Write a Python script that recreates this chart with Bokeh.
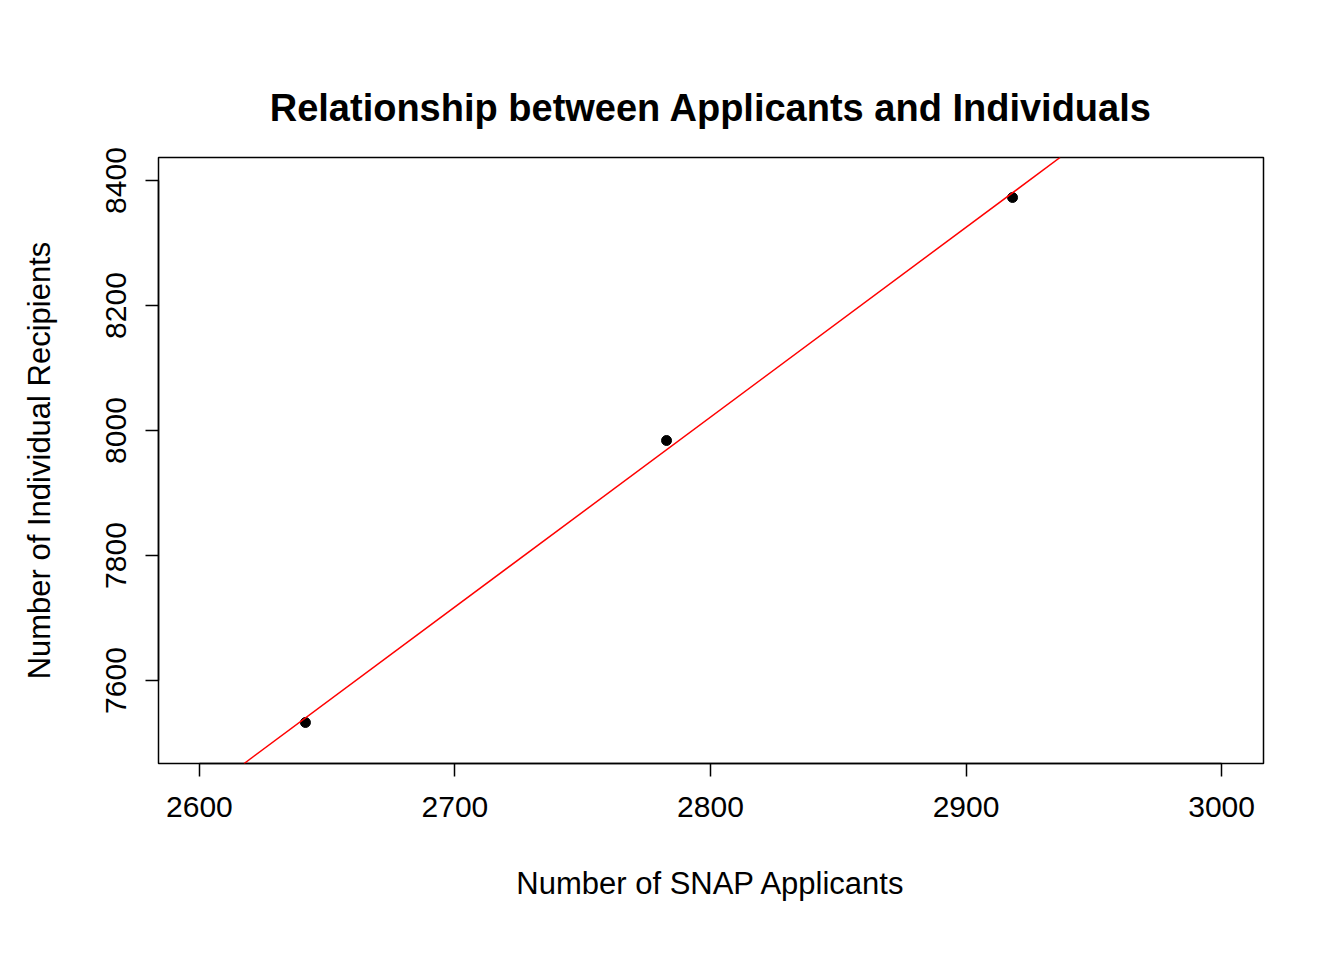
import numpy as np
from bokeh.plotting import figure
from bokeh.models import Slope, FixedTicker, Range1d
from bokeh.embed import file_html
from bokeh.resources import INLINE

applicants = [2641.5, 2782.8, 2918.2]
recipients = [7532.8, 7984.0, 8372.8]
x_ticks = [2600, 2700, 2800, 2900, 3000]
y_ticks = [7600, 7800, 8000, 8200, 8400]

m, c = np.polyfit(applicants, recipients, 1)

p = figure(width=1328, height=944, output_backend="svg", toolbar_location=None,
           x_range=Range1d(2584, 3016.4), y_range=Range1d(7467.2, 8436.8),
           min_border_left=158, min_border_right=65, min_border_top=157, min_border_bottom=181,
           title="Relationship between Applicants and Individuals")

p.title.align = "center"
p.title.text_font = "Liberation Sans"
p.title.text_font_size = "38px"
p.title.text_font_style = "bold"
p.title.text_color = "black"
p.title.standoff = 58

p.xgrid.visible = False
p.ygrid.visible = False
p.outline_line_color = "black"
p.outline_line_width = 1.5

p.xaxis.ticker = FixedTicker(ticks=x_ticks)
p.yaxis.ticker = FixedTicker(ticks=y_ticks)
p.xaxis.bounds = (2600, 3000)
p.yaxis.bounds = (7600, 8400)
p.yaxis.major_label_orientation = "vertical"
for ax in [p.xaxis[0], p.yaxis[0]]:
    ax.minor_tick_line_color = None
    ax.major_tick_out = 13
    ax.major_tick_in = 0
    ax.major_tick_line_width = 1.5
    ax.axis_line_width = 1.5
    ax.major_label_text_font = "Liberation Sans"
    ax.major_label_text_font_size = "30px"
    ax.major_label_text_color = "black"
    ax.major_label_standoff = 20
    ax.axis_label_text_font = "Liberation Sans"
    ax.axis_label_text_font_size = "31px"
    ax.axis_label_text_font_style = "normal"
    ax.axis_label_text_color = "black"
    ax.axis_label_standoff = 46
p.xaxis.axis_label = "Number of SNAP Applicants"
p.yaxis.axis_label = "Number of Individual Recipients"

p.add_layout(Slope(gradient=m, y_intercept=c, line_color="red", line_width=1.5))
p.scatter(applicants, recipients, size=10, color="black")

open("out.html", "w").write(file_html(p, INLINE))
